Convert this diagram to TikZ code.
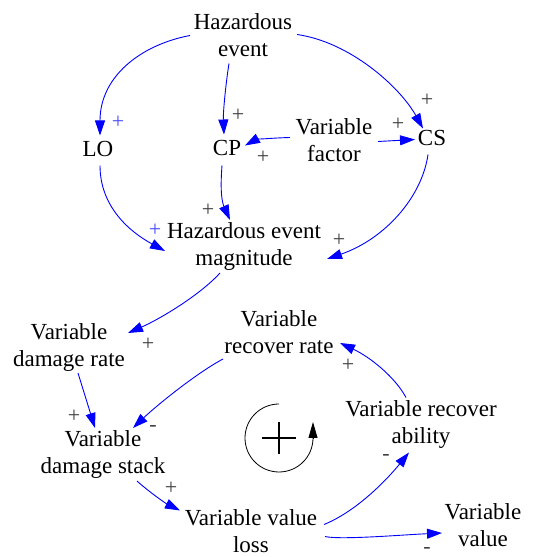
\documentclass[tikz,border=0pt]{standalone}
\usepackage{fontspec}
\IfFontExistsTF{LiberationSerif-Regular.ttf}
  {\setmainfont{LiberationSerif}[Extension=.ttf,UprightFont=*-Regular,BoldFont=*-Bold,ItalicFont=*-Italic,BoldItalicFont=*-BoldItalic]}
  {\setmainfont{Liberation Serif}}
\usetikzlibrary{arrows.meta}
\begin{document}
\begin{tikzpicture}[x=1pt,y=1pt,
  var/.style={align=center,inner sep=0pt,font=\rmfamily\fontsize{23}{27}\selectfont},
  lnk/.style={draw=blue,line width=0.9pt,-{Triangle[length=15pt,width=10pt]}},
  pol/.style={text=black!75,font=\rmfamily\fontsize{22}{22}\selectfont,inner sep=0pt},
  bpol/.style={pol,text=blue!70}
]
\useasboundingbox (0,0) rectangle (543,557);
% variables
\node[var] (hz)  at (243,521.5) {Hazardous\\event};
\node[var] (lo)  at (98,407.5)  {LO};
\node[var] (cp)  at (227,408.5) {CP};
\node[var] (vf)  at (334,416.5) {Variable\\factor};
\node[var] (cs)  at (432,418.5) {CS};
\node[var] (hem) at (244,310)   {Hazardous event\\magnitude};
\node[var] (vdr) at (69,209)    {Variable\\damage rate};
\node[var] (vrr) at (279,225)   {Variable\\recover rate};
\node[var] (vds) at (103,102)   {Variable\\damage stack};
\node[var] (vra) at (421,132.5) {Variable recover\\ability};
\node[var] (vvl) at (251,25.5)  {Variable value\\loss};
\node[var] (vv)  at (483,32)    {Variable\\value};
% links
\draw[lnk] ([shift={(-53,0)}]hz.center) .. controls (140,512) and (100,480) .. ([shift={(2,14)}]lo.center);
\draw[lnk] ([shift={(-14,-28)}]hz.center) .. controls (226,475) and (223,445) .. ([shift={(-3,14)}]cp.center);
\draw[lnk] ([shift={(54,1)}]hz.center) .. controls (350,515) and (400,470) .. ([shift={(-9,10)}]cs.center);
\draw[lnk] ([shift={(-44,3)}]vf.center) .. controls (270,419) and (255,417) .. ([shift={(18,3)}]cp.center);
\draw[lnk] ([shift={(44,-1)}]vf.center) -- ([shift={(-17,-1)}]cs.center);
\draw[lnk] ([shift={(2,-16)}]lo.center) .. controls (100,350) and (130,325) .. ([shift={(-79,-4)}]hem.center);
\draw[lnk] ([shift={(-5,-17)}]cp.center) .. controls (220,365) and (222,355) .. ([shift={(-14,27)}]hem.center);
\draw[lnk] ([shift={(-4,-16)}]cs.center) .. controls (422,360) and (385,318) .. ([shift={(83,-12)}]hem.center);
\draw[lnk] ([shift={(-24,-26)}]hem.center) .. controls (200,262) and (160,238) .. ([shift={(59,15)}]vdr.center);
\draw[lnk] ([shift={(9,-25)}]vdr.center) -- ([shift={(-8,27)}]vds.center);
\draw[lnk] ([shift={(-56,-27)}]vrr.center) .. controls (195,183) and (155,150) .. ([shift={(30,27)}]vds.center);
\draw[lnk] ([shift={(34,-26)}]vds.center) .. controls (148,66) and (165,54) .. ([shift={(-71,21)}]vvl.center);
\draw[lnk] ([shift={(73,7)}]vvl.center) .. controls (355,45) and (385,75) .. ([shift={(-12,-28)}]vra.center);
\draw[lnk] ([shift={(-15,27)}]vra.center) .. controls (395,180) and (370,200) .. ([shift={(61,-11)}]vrr.center);
\draw[lnk] ([shift={(74,-5)}]vvl.center) .. controls (340,17) and (400,22) .. ([shift={(-41,-8)}]vv.center);
% polarities
\node[bpol] (p1)  at (118,435) {+};
\node[pol]  (p2)  at (238,442) {+};
\node[pol]  (p3)  at (263,400) {+};
\node[pol]  (p4)  at (427,457) {+};
\node[pol]  (p5)  at (398,433) {+};
\node[pol]  (p6)  at (208,347) {+};
\node[bpol] (p7)  at (155,327) {+};
\node[pol]  (p8)  at (339,317) {+};
\node[pol]  (p9)  at (148,213) {+};
\node[pol]  (p10) at (74,141)  {+};
\node[pol]  (p11) at (153,129) {-};
\node[pol]  (p12) at (171,69)  {+};
\node[pol]  (p13) at (348,192) {+};
\node[pol]  (p14) at (386,100) {-};
\node[pol]  (p15) at (427,7)   {-};
% loop symbol
\coordinate (loopc) at (279,119);
\draw[line width=0.8pt] ([shift={(90:34)}]loopc) arc[start angle=90,end angle=360,radius=34]
  coordinate (loopend);
\draw[line width=0.8pt,-{Triangle[length=16pt,width=9pt]}] (loopend) -- ([shift={(0,16)}]loopend);
\draw[line width=2.2pt] ([shift={(-17,0)}]loopc) -- ([shift={(17,0)}]loopc);
\draw[line width=2.2pt] ([shift={(0,-16)}]loopc) -- ([shift={(0,16)}]loopc);
\end{tikzpicture}
\end{document}
